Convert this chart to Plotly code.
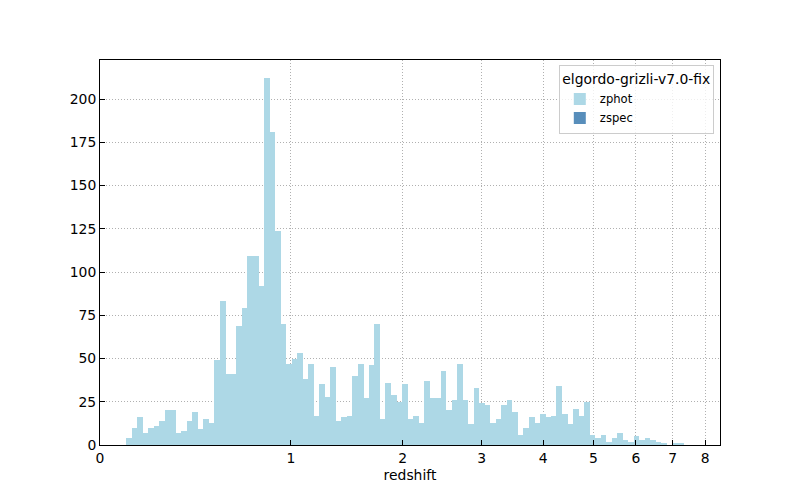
import numpy as np
import plotly.graph_objects as go

# Histogram of redshift on a log10(1+z) axis
bin_start = 0.0413      # log10(1+z) of first bin edge
bin_width = 0.00870     # bin width in log10(1+z)
zphot_counts = [4, 10, 16, 7, 10, 11, 14, 20, 20, 7,
                8, 14, 19, 9, 15, 13, 49, 83, 41, 41,
                69, 79, 109, 109, 92, 212, 181, 124, 70, 47,
                50, 53, 38, 47, 17, 35, 28, 45, 14, 16,
                17, 40, 47, 27, 46, 70, 15, 36, 29, 25,
                35, 15, 17, 13, 37, 27, 27, 43, 20, 26,
                47, 26, 12, 33, 24, 23, 13, 15, 23, 26,
                19, 6, 10, 16, 13, 18, 16, 17, 34, 18,
                12, 21, 17, 25, 6, 4, 6, 2, 4, 7,
                3, 2, 5, 3, 4, 3, 2, 1, 0, 1, 1]
zspec_counts = []
tick_z = [0, 1, 2, 3, 4, 5, 6, 7, 8]
y_ticks = [0, 25, 50, 75, 100, 125, 150, 175, 200]
z_max_axis = 8.5

n = len(zphot_counts)
centers = [bin_start + (i + 0.5) * bin_width for i in range(n)]

fig = go.Figure()
fig.add_trace(go.Bar(
    x=centers, y=zphot_counts, width=bin_width * 1.04,
    marker=dict(color="#add8e6", line=dict(width=0)),
    name="zphot"))
fig.add_trace(go.Bar(
    x=[None], y=[None],
    marker=dict(color="rgb(88,142,187)", line=dict(width=0)),
    name="zspec"))

font = "DejaVu Sans"
fig.update_layout(
    width=792, height=492,
    margin=dict(l=92, r=80, t=52, b=55),
    paper_bgcolor="white", plot_bgcolor="white",
    barmode="overlay", bargap=0,
    font=dict(family=font, size=13.9, color="black"),
    showlegend=True,
    legend=dict(
        title=dict(text="elgordo-grizli-v7.0-fix", font=dict(size=13.9), side="top center"),
        font=dict(size=11.6),
        x=0.99, y=0.986, xanchor="right", yanchor="top",
        bgcolor="rgba(255,255,255,0.8)", bordercolor="#cccccc", borderwidth=1,
        traceorder="normal", tracegroupgap=2,
    ),
)
fig.update_xaxes(
    range=[0, np.log10(1 + z_max_axis)],
    tickmode="array",
    tickvals=[np.log10(1 + z) for z in tick_z],
    ticktext=[str(z) for z in tick_z],
    ticks="inside", ticklen=5, tickcolor="black", tickwidth=1,
    showline=True, linecolor="black", linewidth=1, mirror=True,
    showgrid=True, gridcolor="#b0b0b0", griddash="1px,2px", gridwidth=1,
    zeroline=False,
    title=dict(text="redshift", font=dict(size=13.9), standoff=5),
)
fig.update_yaxes(
    range=[0, 222.6],
    tickmode="array", tickvals=y_ticks,
    ticks="inside", ticklen=5, tickcolor="black", tickwidth=1,
    showline=True, linecolor="black", linewidth=1, mirror=True,
    showgrid=True, gridcolor="#b0b0b0", griddash="1px,2px", gridwidth=1,
    zeroline=False,
)

fig.write_html("out.html")
